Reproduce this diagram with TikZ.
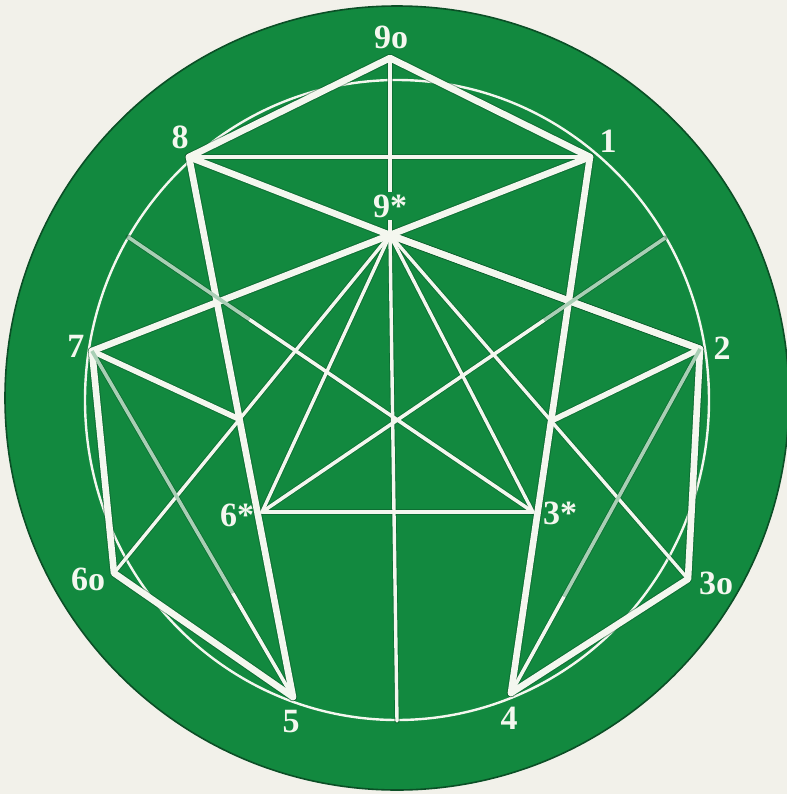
\documentclass[tikz,border=0pt]{standalone}
\usepackage{fontspec}
\setmainfont{Liberation Serif}
\usetikzlibrary{calc}
\definecolor{bgcream}{HTML}{F2F1EA}
\definecolor{discgreen}{HTML}{12893F}
\definecolor{discedge}{HTML}{0B4F26}
\definecolor{lnwhite}{HTML}{F4F7EF}
\definecolor{lngrey}{HTML}{A9CFB5}
\newcommand{\netlines}{%
  % thick lines
  \draw[tk] (n8) -- (n9o) -- (n1);
  \draw[tk] (n8) -- (n9s) -- (n1);
  \draw[tk] (n8) -- (n5);
  \draw[tk] (n1) -- (n4);
  \draw[tk] (n7) -- (n9s) -- (n2);
  \draw[tk] (n9s) -- (n2);
  \draw[tk] (n7) -- (n6o) -- (n5);
  \draw[tk] (n2) -- (n3o) -- (n4);
  % medium
  \draw[md] (n7) -- (XL);
  \draw[md] (n2) -- (XR);
  % thin
  \draw[tn] (n8) -- (n1);
  \draw[tn] (n9o) -- (n9s);
  \draw[tn] (n9s) -- (n6s);
  \draw[tn] (n9s) -- (n3s);
  \draw[tn] (n9s) -- (n6o);
  \draw[tn] (n9s) -- (n3o);
  \draw[tn] (n9s) -- (nB);
  \draw[tn] (n6s) -- (n3s);
  % graded lines
  \draw[grA] (n7) -- ($(n7)!0.70!(n5)$);
  \draw[grB] ($(n7)!0.70!(n5)$) -- (n5);
  \draw[grA] (n2) -- ($(n2)!0.72!(n4)$);
  \draw[grB] ($(n2)!0.72!(n4)$) -- (n4);
  \draw[grA] (pL) -- ($(pL)!0.30!(n3s)$);
  \draw[grB] ($(pL)!0.30!(n3s)$) -- (n3s);
  \draw[grA] (pR) -- ($(pR)!0.30!(n6s)$);
  \draw[grB] ($(pR)!0.30!(n6s)$) -- (n6s);
}
\begin{document}
\begin{tikzpicture}[x=0.5pt,y=-0.5pt,
  lbl/.style={text=lnwhite, font=\fontsize{17}{17}\selectfont\bfseries, inner sep=0pt},
]
\fill[bgcream] (0,0) rectangle (787,794);
\useasboundingbox (0,0) rectangle (787,794);
\fill[discgreen, draw=discedge, line width=0.8pt] (397,398) circle [radius=392];

% points
\coordinate (n9o) at (390,58);
\coordinate (n1)  at (590,157);
\coordinate (n8)  at (189,157);
\coordinate (n9s) at (390,235);
\coordinate (n7)  at (92,351);
\coordinate (n2)  at (700,349);
\coordinate (n6s) at (262,512);
\coordinate (n3s) at (533,512);
\coordinate (n6o) at (114,573);
\coordinate (n3o) at (688,579);
\coordinate (n5)  at (293,697);
\coordinate (n4)  at (511,693);
\coordinate (nB)  at (397,721);
\coordinate (pL)  at (128,237);
\coordinate (pR)  at (665,238);
\coordinate (XL) at (intersection of n8--n5 and n6o--n9s);
\coordinate (XR) at (intersection of n1--n4 and n3o--n9s);

% inner circle
\draw[lnwhite, line width=1.2pt] (397,400) ellipse [x radius=312, y radius=320];

% shadow pass
\begin{scope}[
  tk/.style={line width=4.3pt, draw=discedge, draw opacity=0.45, line cap=round, line join=round},
  md/.style={line width=3.7pt, draw=discedge, draw opacity=0.45, line cap=round},
  tn/.style={line width=2.6pt, draw=discedge, draw opacity=0.45, line cap=round},
  grA/.style={line width=2.6pt, draw=discedge, draw opacity=0.45, line cap=round},
  grB/.style={line width=2.6pt, draw=discedge, draw opacity=0.45, line cap=round}]
\netlines
\end{scope}
% white pass
\begin{scope}[
  tk/.style={line width=3.3pt, draw=lnwhite, line cap=round, line join=round},
  md/.style={line width=2.8pt, draw=lnwhite, line cap=round},
  tn/.style={line width=1.7pt, draw=lnwhite, line cap=round},
  grA/.style={line width=1.8pt, draw=lngrey},
  grB/.style={line width=1.8pt, draw=lnwhite}]
\netlines
\end{scope}

% labels
\node[lbl] (l9o) at (391,37) {9o};
\node[lbl] (l1)  at (608,141) {1};
\node[lbl] (l8)  at (180,137) {8};
\node[lbl, fill=discgreen, inner sep=1.5pt] (l9s) at (390,206) {9*};
\node[lbl] (l7)  at (76,346) {7};
\node[lbl] (l2)  at (722,348) {2};
\node[lbl] (l6s) at (237,515) {6*};
\node[lbl] (l3s) at (560,513) {3*};
\node[lbl] (l6o) at (88,579) {6o};
\node[lbl] (l3o) at (716,583) {3o};
\node[lbl] (l5)  at (291,722) {5};
\node[lbl] (l4)  at (509,718) {4};
\end{tikzpicture}
\end{document}
